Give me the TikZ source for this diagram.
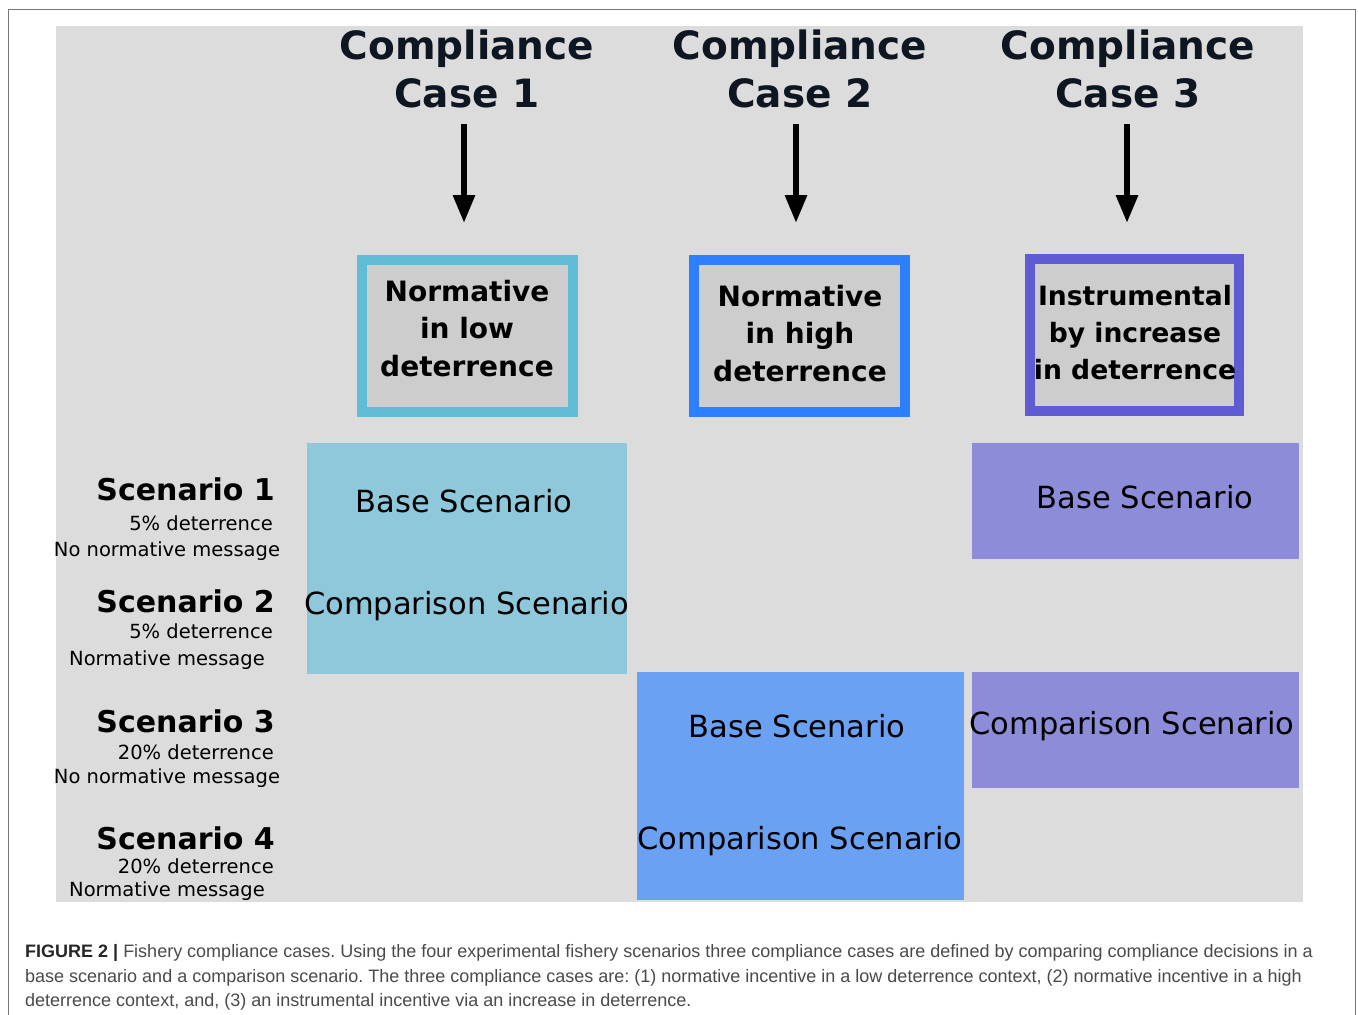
\documentclass[tikz,border=0pt]{standalone}
\usepackage{fontspec}
\setmainfont{DejaVu Sans}
\newfontfamily\capfont{Liberation Sans}
\usetikzlibrary{arrows.meta}
\definecolor{panelc}{HTML}{DCDCDC}
\definecolor{innerc}{HTML}{CDCDCD}
\definecolor{bordA}{HTML}{61BDD5}
\definecolor{bordB}{HTML}{2D7FFD}
\definecolor{bordC}{HTML}{5F5BD2}
\definecolor{blkA}{HTML}{8EC8DA}
\definecolor{blkB}{HTML}{6AA1F2}
\definecolor{blkC}{HTML}{8D8CD9}
\definecolor{hdrc}{HTML}{0E1621}
\definecolor{framec}{HTML}{777777}
\definecolor{captc}{HTML}{4A4A4A}
\newcommand\mlines[1]{\begin{tabular}[t]{@{}c@{}}#1\end{tabular}}
\frenchspacing
\begin{document}
\begin{tikzpicture}[x=1pt,y=-1pt,
  hdr/.style={anchor=base,inner sep=0,text=hdrc,font=\fontsize{39}{48}\selectfont\bfseries},
  casebox/.style={draw,line width=10pt,fill=innerc,inner sep=0,minimum width=211pt,minimum height=152pt},
  boxtxt/.style={anchor=base,inner sep=0,font=\fontsize{28}{37.5}\selectfont\bfseries},
  arr/.style={line width=6pt,-{Triangle[width=21pt,length=28pt]}},
  scentitle/.style={anchor=base east,inner sep=0,font=\fontsize{30}{36}\selectfont\bfseries},
  scensub/.style={anchor=base east,inner sep=0,font=\fontsize{19.5}{24}\selectfont},
  scenmsg/.style={anchor=base,inner sep=0,font=\fontsize{19.5}{24}\selectfont},
  blktxt/.style={anchor=base,inner sep=0,font=\fontsize{30.5}{36}\selectfont},
  capline/.style={anchor=base west,inner sep=0,text=captc,font=\capfont\fontsize{18}{24}\selectfont}
]
\useasboundingbox (0,0) rectangle (1358,1015);
\fill[white] (0,0) rectangle (1358,1015);
\draw[framec,line width=1pt] (8,1016) -- (8,9) -- (1355,9) -- (1355,1016);
\fill[panelc] (56,26) rectangle (1303,902);

% headers
\node[hdr] (h1) at (467,59) {\mlines{Compliance\\Case 1}};
\node[hdr] (h2) at (800,59) {\mlines{Compliance\\Case 2}};
\node[hdr] (h3) at (1128,59) {\mlines{Compliance\\Case 3}};

% case boxes
\node[casebox,draw=bordA] (b1) at (467,336) {};
\node[casebox,draw=bordB] (b2) at (799.5,336) {};
\node[casebox,draw=bordC,minimum width=209pt] (b3) at (1134.5,335.3) {};
\node[boxtxt] (t1) at (467,301) {\mlines{Normative\\in low\\deterrence}};
\node[boxtxt] (t2) at (800,306) {\mlines{Normative\\in high\\deterrence}};
\node[boxtxt,font=\fontsize{26.6}{37.3}\selectfont\bfseries] (t3) at (1135,305) {\mlines{Instrumental\\by increase\\in deterrence}};

% arrows
\coordinate (a1s) at (464,124); \coordinate (a1e) at (464,223);
\coordinate (a2s) at (796,124); \coordinate (a2e) at (796,223);
\coordinate (a3s) at (1127,124); \coordinate (a3e) at (1127,223);
\draw[arr] (a1s) -- (a1e);
\draw[arr] (a2s) -- (a2e);
\draw[arr] (a3s) -- (a3e);

% scenario blocks
\fill[blkA] (307,443) rectangle (626.5,674);
\fill[blkB] (636.5,672) rectangle (963.5,900);
\fill[blkC] (972,443) rectangle (1299,559);
\fill[blkC] (972,672) rectangle (1299,788);
\node[blktxt] (s1b) at (464,512) {Base Scenario};
\node[blktxt] (s1c) at (466.5,614) {Comparison Scenario};
\node[blktxt] (s2b) at (797,737) {Base Scenario};
\node[blktxt] (s2c) at (800,849) {Comparison Scenario};
\node[blktxt] (s3b) at (1145,508) {Base Scenario};
\node[blktxt] (s3c) at (1132,734) {Comparison Scenario};

% row labels
\node[scentitle] (r1) at (275,500) {Scenario 1};
\node[scensub] (r1a) at (273,530) {5\% deterrence};
\node[scenmsg] (r1b) at (167,556) {No normative message};
\node[scentitle] (r2) at (275,612) {Scenario 2};
\node[scensub] (r2a) at (273,638) {5\% deterrence};
\node[scenmsg] (r2b) at (167,665) {Normative message};
\node[scentitle] (r3) at (275,732) {Scenario 3};
\node[scensub] (r3a) at (274,759) {20\% deterrence};
\node[scenmsg] (r3b) at (167,783) {No normative message};
\node[scentitle] (r4) at (275,849) {Scenario 4};
\node[scensub] (r4a) at (274,873) {20\% deterrence};
\node[scenmsg] (r4b) at (167,896) {Normative message};

% caption
\node[capline] (c1) at (25,957) {{\color{black!85}\bfseries FIGURE 2 |} Fishery compliance cases. Using the four experimental fishery scenarios three compliance cases are defined by comparing compliance decisions in a};
\node[capline] (c2) at (25,982) {base scenario and a comparison scenario. The three compliance cases are: (1) normative incentive in a low deterrence context, (2) normative incentive in a high};
\node[capline] (c3) at (25,1006) {deterrence context, and, (3) an instrumental incentive via an increase in deterrence.};
\end{tikzpicture}
\end{document}
